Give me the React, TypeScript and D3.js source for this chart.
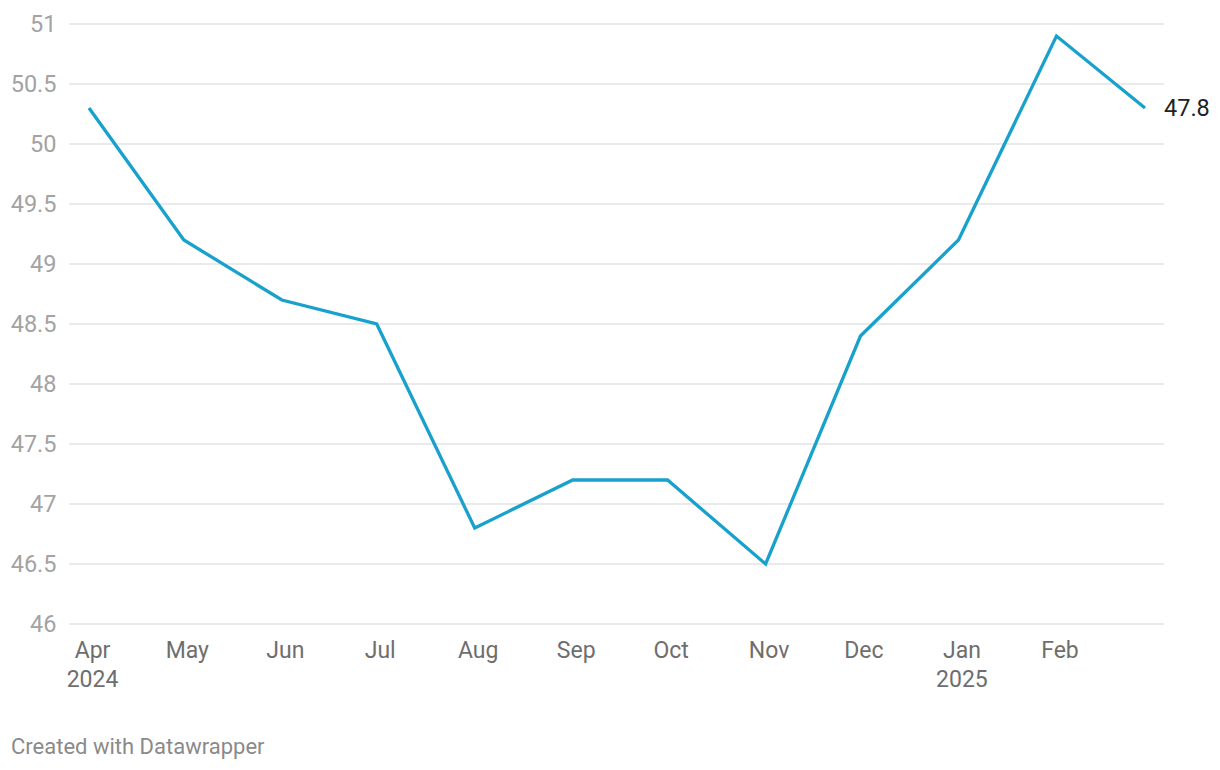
import React from "react";
import * as d3 from "d3";

const months = ["2024-04-01","2024-05-01","2024-06-01","2024-07-01","2024-08-01","2024-09-01","2024-10-01","2024-11-01","2024-12-01","2025-01-01","2025-02-01","2025-03-01"];
const values = [50.3, 49.2, 48.7, 48.5, 46.8, 47.2, 47.2, 46.5, 48.4, 49.2, 50.9, 50.3];
const yTicks = [46, 46.5, 47, 47.5, 48, 48.5, 49, 49.5, 50, 50.5, 51];
const xTickLabels = [
  ["Apr", "2024"], ["May"], ["Jun"], ["Jul"], ["Aug"], ["Sep"], ["Oct"], ["Nov"], ["Dec"], ["Jan", "2025"], ["Feb"],
];
const endLabel = "47.8";

export default function App() {
  const parse = d3.timeParse("%Y-%m-%d");
  const dates = months.map((m) => parse(m) as Date);
  const x = d3.scaleTime().domain([dates[0], dates[dates.length - 1]]).range([89, 1145]);
  const y = d3.scaleLinear().domain([46, 51]).range([624, 24]);
  const line = d3.line<number>().x((_, i) => x(dates[i])).y((d) => y(d));
  const font = "Roboto, 'Noto Sans', sans-serif";
  return (
    <svg width={1220} height={770} style={{ position: "absolute", left: 0, top: 0, background: "#fff" }}>
      {yTicks.map((t) => (
        <g key={t}>
          <line x1={69} x2={1164} y1={y(t)} y2={y(t)} stroke="#e3e3e3" strokeWidth={1.5} />
          <text x={56.5} y={y(t)} dy="0.36em" textAnchor="end" fontFamily={font} fontSize={23.5} fill="#a3a3a3">
            {t}
          </text>
        </g>
      ))}
      {xTickLabels.map((lab, i) => (
        <text key={i} x={x(dates[i]) + 3.5} y={657.5} textAnchor="middle" fontFamily={font} fontSize={23} fill="#6e6e6e">
          {lab.map((l, j) => (
            <tspan key={j} x={x(dates[i]) + 3.5} dy={j === 0 ? 0 : 29.5}>{l}</tspan>
          ))}
        </text>
      ))}
      <path d={line(values) || ""} fill="none" stroke="#18a1cd" strokeWidth={3.3} strokeLinejoin="miter" strokeLinecap="butt" />
      <text x={1164} y={y(values[values.length - 1])} dy="0.36em" fontFamily={font} fontSize={23.5} fill="#222">
        {endLabel}
      </text>
      <text x={11} y={754} fontFamily={font} fontSize={22} fill="#8a8a8a">Created with Datawrapper</text>
    </svg>
  );
}
